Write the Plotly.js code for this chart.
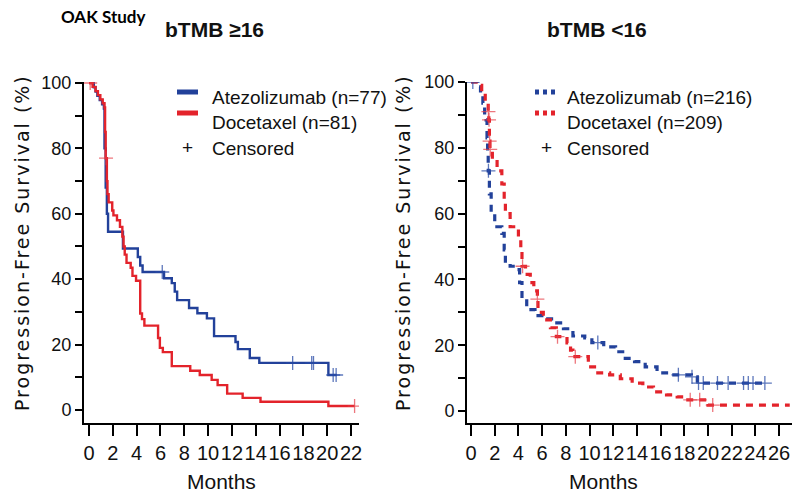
<!DOCTYPE html>
<html>
<head>
<meta charset="utf-8">
<script src="https://cdn.plot.ly/plotly-3.0.1.min.js"></script>
<style>
  html, body { margin: 0; padding: 0; background: #fff; }
  #chart { width: 792px; height: 493px; }
  g.annotation[data-index="0"] text, g.annotation[data-index="1"] text { letter-spacing: 2px; }
</style>
</head>
<body>
<div id="chart"></div>
<script>
// OAK study: progression-free survival by blood TMB subgroup (Kaplan-Meier)

// ---- bTMB >= 16 ----
const hiAtezoTime = [0, 0.4, 0.55, 0.7, 0.9, 1.1, 1.25, 1.3, 1.4, 1.5, 1.6, 2.85, 4.1, 4.3, 4.5, 6.3, 6.95, 7.2, 7.4, 8.4, 9.1, 9.9, 10.5, 12.3, 12.5, 13.5, 14.3, 20.1];
const hiAtezoSurv = [100, 98.7, 97.4, 96.1, 94.8, 93.5, 92.2, 80, 68, 60, 54.5, 49.4, 46.8, 44.2, 42.2, 40.3, 38.8, 36.2, 33.6, 31.2, 29.6, 28.0, 22.6, 20.8, 18.6, 15.9, 14.4, 10.7];
const hiAtezoCensored = [6.15, 17.1, 18.7, 18.85, 20.5, 20.75];
const hiAtezoEnd = 20.8;

const hiDoceTime = [0, 0.3, 0.55, 0.75, 0.95, 1.15, 1.3, 1.35, 1.4, 1.5, 1.55, 1.65, 1.95, 2.05, 2.35, 2.6, 2.8, 2.9, 3.0, 3.15, 3.5, 3.65, 3.95, 4.3, 4.45, 4.65, 5.8, 5.95, 6.2, 6.95, 8.5, 9.3, 10.3, 10.8, 11.6, 12.9, 14.4, 20.1];
const hiDoceSurv = [100, 98.8, 97.5, 96.3, 95.0, 93.8, 92.5, 85, 77, 70, 66, 63.5, 61, 59.5, 58, 56, 53, 50, 47.5, 45, 43.5, 41, 39.5, 29.5, 27.8, 25.8, 22.0, 19.0, 17.7, 13.4, 12.0, 10.7, 9.2, 7.6, 5.0, 3.7, 2.5, 1.2];
const hiDoceCensored = [0.1, 1.43, 22.3];
const hiDoceEnd = 22.3;

// ---- bTMB < 16 ----
const loAtezoTime = [0, 0.5, 0.8, 1.0, 1.15, 1.27, 1.35, 1.4, 1.45, 1.55, 1.7, 2.0, 2.6, 2.8, 2.9, 3.3, 3.7, 4.1, 4.3, 4.7, 5.4, 6.2, 7.1, 7.8, 8.6, 9.6, 10.2, 11.2, 12.2, 12.8, 13.8, 14.7, 15.7, 16.5, 18.6, 19.1];
const loAtezoSurv = [100, 98.5, 96, 93.6, 90, 88.5, 83, 78.5, 73, 66, 60, 56, 54, 49, 45, 44, 43, 39, 34, 30.8, 29, 28, 26.8, 25, 22.8, 22.2, 20.8, 19.5, 18, 16, 15, 13.4, 11.6, 11, 10.4, 8.5];
const loAtezoCensored = [0.15, 1.47, 10.7, 17.5, 18.65, 19.2, 19.6, 20.8, 21.7, 23.0, 23.4, 23.8, 24.8];
const loAtezoEnd = 24.9;

const loDoceTime = [0, 0.6, 0.9, 1.2, 1.45, 1.5, 1.55, 1.6, 1.8, 2.2, 2.6, 2.8, 2.9, 3.3, 4.0, 4.2, 4.3, 4.6, 5.0, 5.3, 5.6, 5.65, 6.1, 6.7, 7.2, 8.1, 8.4, 8.6, 9.9, 10.7, 11.7, 12.6, 13.6, 14.5, 15.4, 16.5, 17.4, 18.0, 20.0];
const loDoceSurv = [100, 99, 97, 94, 91, 88.5, 82, 79.5, 76.5, 73, 69, 64, 60, 56, 53, 49, 44, 41.5, 39, 36.5, 34, 30, 27.7, 25.3, 22.6, 20.7, 18.5, 16.5, 13.4, 11.6, 11, 9.8, 8.5, 7.3, 5.8, 4.9, 4.3, 3.4, 1.8];
const loDoceCensored = [1.47, 1.52, 1.57, 1.62, 4.35, 5.6, 7.3, 8.8, 18.5, 19.3, 20.4];
const loDoceEnd = 26.9;

const monthTicks = [0, 2, 4, 6, 8, 10, 12, 14, 16, 18, 20, 22, 24, 26];
const survTicks = [0, 20, 40, 60, 80, 100];

const legendHi = ['Atezolizumab (n=77)', 'Docetaxel (n=81)', 'Censored'];
const legendLo = ['Atezolizumab (n=216)', 'Docetaxel (n=209)', 'Censored'];

const BLUE = '#22419a';
const RED = '#e3232b';
const SANS = "'Liberation Sans', Arial, sans-serif";
const W = 792, H = 493;
const px = v => v / W;
const py = v => 1 - v / H;

// survival value in effect at time t (right-continuous step function)
function stepAt(times, surv, t) {
  let s = surv[0];
  for (let i = 0; i < times.length; i++) { if (times[i] <= t) s = surv[i]; }
  return s;
}

function curve(times, surv, end, color, dash, width, xa, ya) {
  return {
    x: times.concat([end]), y: surv.concat([surv[surv.length - 1]]),
    mode: 'lines', line: { shape: 'hv', color: color, width: width, dash: dash },
    xaxis: xa, yaxis: ya, hoverinfo: 'skip'
  };
}
function censors(times, surv, cens, color, xa, ya) {
  return {
    x: cens, y: cens.map(t => stepAt(times, surv, t)),
    mode: 'markers',
    marker: { symbol: 'cross-thin', size: 10, color: color, line: { width: 1.3, color: color } },
    xaxis: xa, yaxis: ya, hoverinfo: 'skip'
  };
}

const data = [
  curve(hiAtezoTime, hiAtezoSurv, hiAtezoEnd, BLUE, 'solid', 2.4, 'x', 'y'),
  curve(hiDoceTime, hiDoceSurv, hiDoceEnd, RED, 'solid', 2.4, 'x', 'y'),
  censors(hiAtezoTime, hiAtezoSurv, hiAtezoCensored, 'rgba(40,75,165,0.75)', 'x', 'y'),
  censors(hiDoceTime, hiDoceSurv, hiDoceCensored, 'rgba(230,60,70,0.7)', 'x', 'y'),
  curve(loAtezoTime, loAtezoSurv, loAtezoEnd, BLUE, '7px,6px', 3.2, 'x2', 'y2'),
  curve(loDoceTime, loDoceSurv, loDoceEnd, RED, '7px,6px', 3.2, 'x2', 'y2'),
  censors(loAtezoTime, loAtezoSurv, loAtezoCensored, 'rgba(40,75,165,0.75)', 'x2', 'y2'),
  censors(loDoceTime, loDoceSurv, loDoceCensored, 'rgba(230,60,70,0.7)', 'x2', 'y2')
];

const tickFontX = { family: SANS, size: 20, color: '#111' };
const tickFontY = { family: SANS, size: 18, color: '#111' };

function xAxis(domain, range, anchor) {
  return {
    domain: domain, range: range, anchor: anchor,
    tickvals: monthTicks, ticktext: monthTicks.map(String), tickangle: 0,
    showline: true, linewidth: 2, linecolor: '#000', mirror: false,
    ticks: 'outside', ticklen: 11, tickwidth: 2, tickcolor: '#000',
    showgrid: false, zeroline: false, tickfont: tickFontX, fixedrange: true
  };
}
function yAxis(domain, range, anchor) {
  return {
    domain: domain, range: range, anchor: anchor,
    tickvals: survTicks, ticktext: survTicks.map(String),
    showline: true, linewidth: 2, linecolor: '#000', mirror: false,
    ticks: 'outside', ticklen: 7, tickwidth: 2, tickcolor: '#000',
    minor: { dtick: 10, tick0: 0, ticks: 'outside', ticklen: 7, tickwidth: 2, tickcolor: '#000', showgrid: false },
    showgrid: false, zeroline: false, tickfont: tickFontY, fixedrange: true
  };
}

const legendFont = { family: SANS, size: 19, color: '#111' };
function legendBlock(x0) {
  const ann = [];
  const lab = x0 === 0 ? legendHi : legendLo;
  const lx = x0 === 0 ? 210 : 565;
  const plusX = x0 === 0 ? 187 : 546;
  [97, 122].forEach((yy, i) => ann.push({
    text: lab[i], x: px(lx), y: py(yy), xref: 'paper', yref: 'paper',
    xanchor: 'left', yanchor: 'middle', showarrow: false, font: legendFont
  }));
  ann.push({ text: '+', x: px(plusX), y: py(147), xref: 'paper', yref: 'paper',
    xanchor: 'center', yanchor: 'middle', showarrow: false, font: { family: SANS, size: 19, color: '#111' } });
  ann.push({ text: lab[2], x: px(lx), y: py(148), xref: 'paper', yref: 'paper',
    xanchor: 'left', yanchor: 'middle', showarrow: false, font: legendFont });
  return ann;
}

const yTitleFont = { family: 'DejaVu Sans, sans-serif', size: 19, color: '#111' };
const titleFont = { family: SANS, size: 21, weight: 700, color: '#111' };
const monthsFont = { family: SANS, size: 21, color: '#111' };
const annotations = [
  { text: 'Progression-Free Survival (%)', x: px(22), y: py(243), xref: 'paper', yref: 'paper', textangle: -90,
    showarrow: false, xanchor: 'center', yanchor: 'middle', font: yTitleFont },
  { text: 'Progression-Free Survival (%)', x: px(403), y: py(243), xref: 'paper', yref: 'paper', textangle: -90,
    showarrow: false, xanchor: 'center', yanchor: 'middle', font: yTitleFont },
  { text: 'OAK Study', x: px(103), y: py(17), xref: 'paper', yref: 'paper', showarrow: false,
    xanchor: 'center', yanchor: 'middle', font: { family: 'Lato, sans-serif', size: 17, weight: 700, color: '#000' } },
  { text: 'bTMB ≥16', x: px(214), y: py(30), xref: 'paper', yref: 'paper', showarrow: false,
    xanchor: 'center', yanchor: 'middle', font: titleFont },
  { text: 'bTMB <16', x: px(597), y: py(30), xref: 'paper', yref: 'paper', showarrow: false,
    xanchor: 'center', yanchor: 'middle', font: titleFont },
  { text: 'Months', x: px(222), y: py(481), xref: 'paper', yref: 'paper', showarrow: false,
    xanchor: 'center', yanchor: 'middle', font: monthsFont },
  { text: 'Months', x: px(603), y: py(481), xref: 'paper', yref: 'paper', showarrow: false,
    xanchor: 'center', yanchor: 'middle', font: monthsFont }
].concat(legendBlock(0), legendBlock(1));

const shapes = [
  { type: 'line', xref: 'paper', yref: 'paper', x0: px(177), x1: px(198), y0: py(92), y1: py(92), line: { color: BLUE, width: 5 } },
  { type: 'line', xref: 'paper', yref: 'paper', x0: px(177), x1: px(198), y0: py(113), y1: py(113), line: { color: RED, width: 5 } },
  { type: 'line', xref: 'paper', yref: 'paper', x0: px(535), x1: px(557), y0: py(92), y1: py(92), line: { color: BLUE, width: 5, dash: '4px,4px' } },
  { type: 'line', xref: 'paper', yref: 'paper', x0: px(535), x1: px(557), y0: py(113), y1: py(113), line: { color: RED, width: 5, dash: '4px,4px' } }
];

const layout = {
  width: W, height: H,
  margin: { l: 0, r: 0, t: 0, b: 0 },
  paper_bgcolor: '#fff', plot_bgcolor: '#fff',
  showlegend: false,
  xaxis: xAxis([px(84), px(359)], [-0.42, 22.67], 'y'),
  yaxis: yAxis([1 - 423 / H, 1 - 82 / H], [-3.98, 100.3], 'x'),
  xaxis2: xAxis([px(467), 1], [-0.34, 27.09], 'y2'),
  yaxis2: yAxis([1 - 423 / H, 1 - 82 / H], [-3.65, 100.0], 'x2'),
  annotations: annotations,
  shapes: shapes
};

Plotly.newPlot('chart', data, layout, { displayModeBar: false, staticPlot: true });
</script>
</body>
</html>
